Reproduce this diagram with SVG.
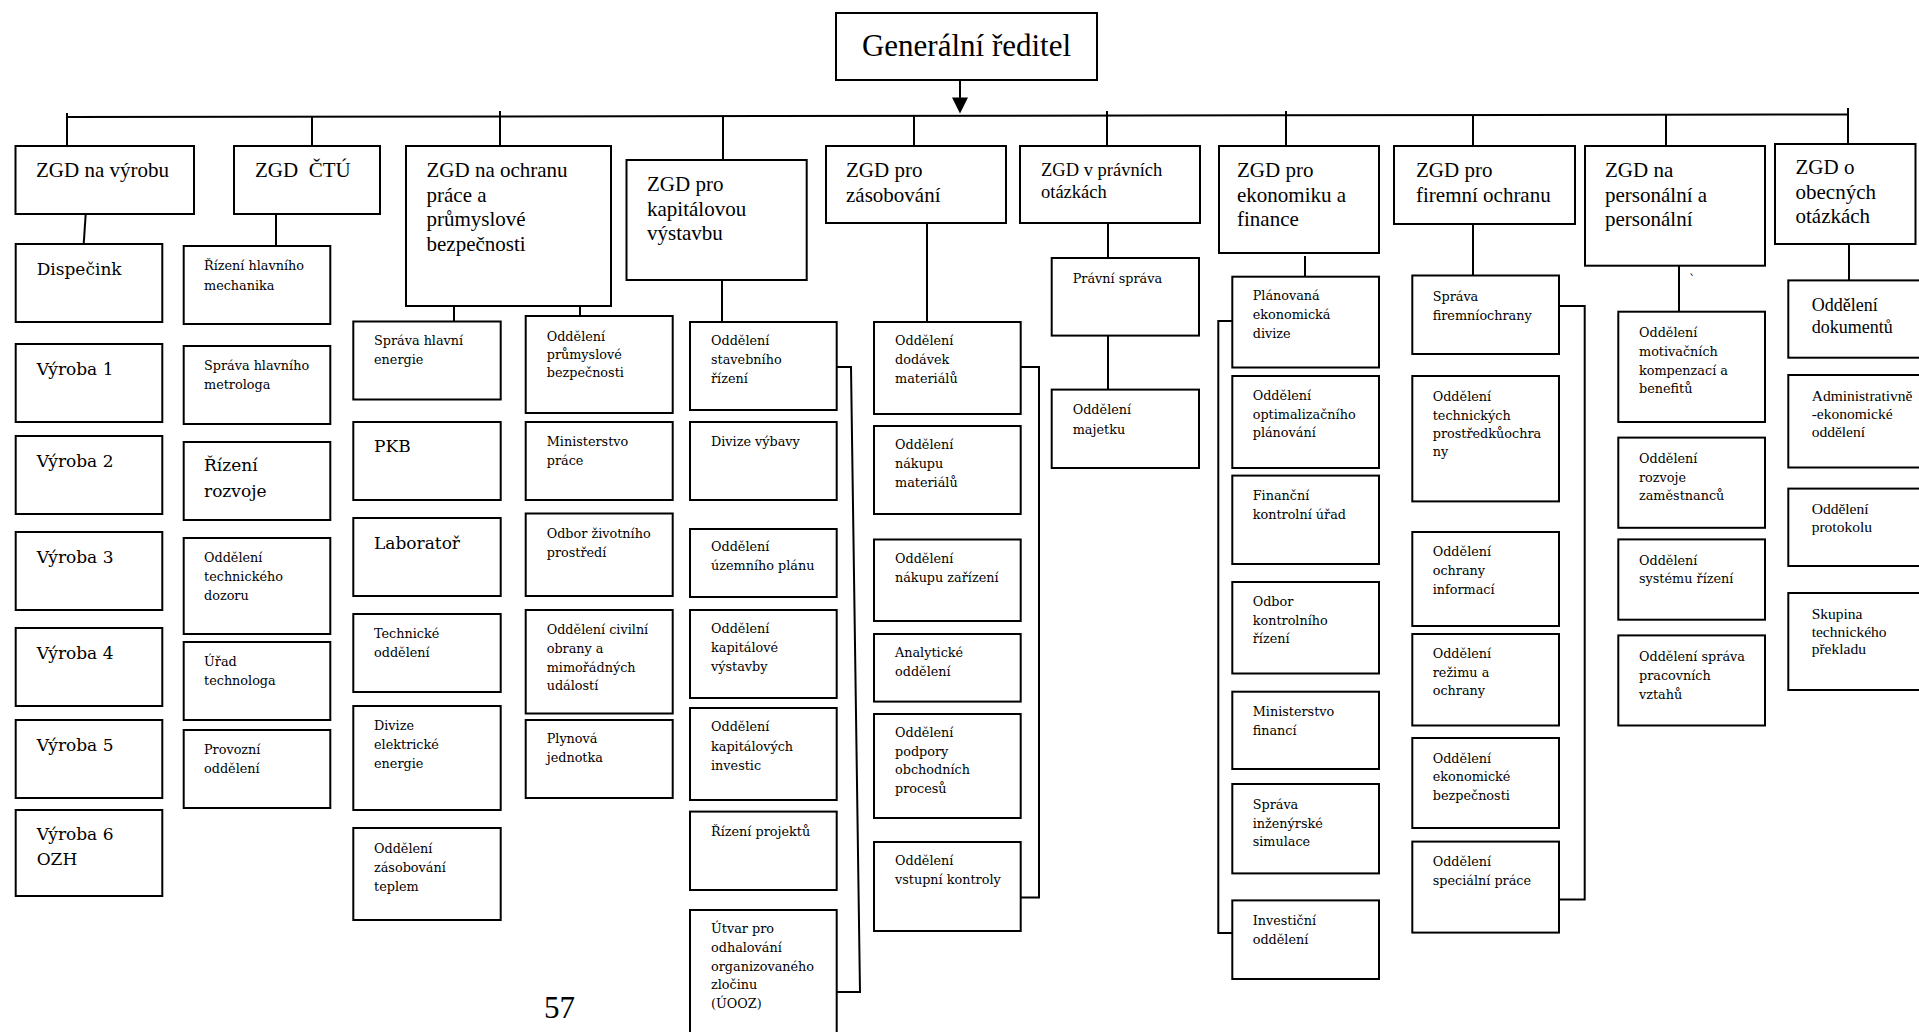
<svg xmlns="http://www.w3.org/2000/svg" width="1919" height="1032" viewBox="0 0 1919 1032">
<defs>
<style>
.box{fill:#fff;stroke:#000;stroke-width:2}
.ln{fill:none;stroke:#000;stroke-width:2}
.hd{font-family:"Liberation Serif","Times New Roman",serif;font-size:21px;fill:#000}
.hs{font-family:"Liberation Serif","Times New Roman",serif;font-size:18.5px;fill:#000}
.sm{font-family:"DejaVu Serif",serif;font-size:12.8px;fill:#000}
.lg{font-family:"DejaVu Serif",serif;font-size:17px;fill:#000}
.tm{font-family:"Liberation Serif","Times New Roman",serif;font-size:15.5px;fill:#000}
.tl{font-family:"Liberation Serif","Times New Roman",serif;font-size:18px;fill:#000}
</style>
</defs>
<rect width="1919" height="1032" fill="#fff"/>

<!-- connectors -->
<g id="connectors" class="ln">
<path d="M960,72 V98"/>
<path d="M952,97.5 L968,97.5 L960,113.5 Z" fill="#000" stroke="none"/>
<path d="M67,117 L1848,114.5"/>
<path d="M67,113 V146"/>
<path d="M312,116 V146"/>
<path d="M500,111 V146"/>
<path d="M723,116 V160"/>
<path d="M914,116 V146"/>
<path d="M1107,111 V146"/>
<path d="M1286,111 V146"/>
<path d="M1473,115 V146"/>
<path d="M1666,115 V146"/>
<path d="M1848,108 V144"/>
<path d="M85.7,214 L83.7,244"/>
<path d="M276,214 V246"/>
<path d="M454,306 V321.5"/>
<path d="M580,306 V316"/>
<path d="M722,280 V322"/>
<path d="M836.7,367 H851 L860,992 H836.7"/>
<path d="M927,223 V322"/>
<path d="M1020.7,367 H1039 V897.5 H1020.7"/>
<path d="M1108,223 V258"/>
<path d="M1108,335.6 V389.6"/>
<path d="M1305,256 V276.7"/>
<path d="M1232.3,321 H1218.3 V933 H1232.3"/>
<path d="M1473,224 V275.5"/>
<path d="M1559,306 H1584.7 V899.6 H1559"/>
<path d="M1679,265.7 V311.7"/>
<path d="M1849,244 V280.4"/>
</g>

<!-- top -->
<g id="n-gr"><rect class="box" x="836" y="13" width="261" height="67"/>
<text x="966.5" y="56" text-anchor="middle" style="font-family:'Liberation Serif','Times New Roman',serif;font-size:31px">Generální ředitel</text></g>

<!-- deputy directors -->
<g id="n-vyroba"><rect class="box" x="15.5" y="146" width="178.5" height="68"/>
<text class="hd" x="36" y="177">ZGD na výrobu</text></g>
<g id="n-ctu"><rect class="box" x="234" y="146" width="146" height="68"/>
<text class="hd" x="255" y="177" xml:space="preserve">ZGD  ČTÚ</text></g>
<g id="n-ochrana"><rect class="box" x="406" y="146" width="205" height="160"/>
<text class="hd"><tspan x="426.5" y="177">ZGD na ochranu</tspan><tspan x="426.5" y="201.5">práce a</tspan><tspan x="426.5" y="226">průmyslové</tspan><tspan x="426.5" y="250.5">bezpečnosti</tspan></text></g>
<g id="n-kapital"><rect class="box" x="626.5" y="160" width="180.2" height="120"/>
<text class="hd"><tspan x="647" y="191">ZGD pro</tspan><tspan x="647" y="215.5">kapitálovou</tspan><tspan x="647" y="240">výstavbu</tspan></text></g>
<g id="n-zasob"><rect class="box" x="826" y="146" width="180" height="77"/>
<text class="hd"><tspan x="846" y="177">ZGD pro</tspan><tspan x="846" y="201.5">zásobování</tspan></text></g>
<g id="n-pravni"><rect class="box" x="1020" y="146" width="180" height="77"/>
<text class="hs"><tspan x="1041" y="176">ZGD v právních</tspan><tspan x="1041" y="198">otázkách</tspan></text></g>
<g id="n-ekonom"><rect class="box" x="1219" y="146" width="160" height="107"/>
<text class="hd"><tspan x="1237" y="177">ZGD pro</tspan><tspan x="1237" y="201.5">ekonomiku a</tspan><tspan x="1237" y="226">finance</tspan></text></g>
<g id="n-firem"><rect class="box" x="1394" y="146" width="181" height="78"/>
<text class="hd"><tspan x="1416" y="177">ZGD pro</tspan><tspan x="1416" y="201.5">firemní ochranu</tspan></text></g>
<g id="n-person"><rect class="box" x="1585" y="146" width="180" height="119.7"/>
<text class="hd"><tspan x="1605" y="177">ZGD na</tspan><tspan x="1605" y="201.5">personální a</tspan><tspan x="1605" y="226">personální</tspan></text></g>
<g id="n-obec"><rect class="box" x="1775" y="144" width="140.5" height="100"/>
<text class="hd"><tspan x="1795.5" y="174">ZGD o</tspan><tspan x="1795.5" y="198.5">obecných</tspan><tspan x="1795.5" y="223">otázkách</tspan></text></g>

<!-- production -->
<g id="n-dispecink"><rect class="box" x="15.7" y="244" width="146.6" height="78"/><text class="lg" x="36.7" y="275">Dispečink</text></g>
<g id="n-vyroba1"><rect class="box" x="15.7" y="344" width="146.6" height="78"/><text class="lg" x="36.7" y="375">Výroba 1</text></g>
<g id="n-vyroba2"><rect class="box" x="15.7" y="436" width="146.6" height="78"/><text class="lg" x="36.7" y="467">Výroba 2</text></g>
<g id="n-vyroba3"><rect class="box" x="15.7" y="532" width="146.6" height="78"/><text class="lg" x="36.7" y="563">Výroba 3</text></g>
<g id="n-vyroba4"><rect class="box" x="15.7" y="628" width="146.6" height="78"/><text class="lg" x="36.7" y="659">Výroba 4</text></g>
<g id="n-vyroba5"><rect class="box" x="15.7" y="720" width="146.6" height="78"/><text class="lg" x="36.7" y="751">Výroba 5</text></g>
<g id="n-vyroba6"><rect class="box" x="15.7" y="810" width="146.6" height="86"/><text class="lg"><tspan x="36.7" y="840">Výroba 6</tspan><tspan x="36.7" y="865">OZH</tspan></text></g>

<!-- ČTÚ -->
<g id="n-mechanik"><rect class="box" x="183.7" y="246" width="146.6" height="78"/><text class="sm"><tspan x="204" y="270">Řízení hlavního</tspan><tspan x="204" y="289.5">mechanika</tspan></text></g>
<g id="n-metrolog"><rect class="box" x="183.7" y="346" width="146.6" height="78"/><text class="sm"><tspan x="204" y="370">Správa hlavního</tspan><tspan x="204" y="389">metrologa</tspan></text></g>
<g id="n-rozvoj"><rect class="box" x="183.7" y="442" width="146.6" height="78"/><text class="lg"><tspan x="204" y="471">Řízení</tspan><tspan x="204" y="497">rozvoje</tspan></text></g>
<g id="n-dozor"><rect class="box" x="183.7" y="538" width="146.6" height="96"/><text class="sm"><tspan x="204" y="562">Oddělení</tspan><tspan x="204" y="581">technického</tspan><tspan x="204" y="600">dozoru</tspan></text></g>
<g id="n-technolog"><rect class="box" x="183.7" y="642" width="146.6" height="78"/><text class="sm"><tspan x="204" y="666">Úřad</tspan><tspan x="204" y="685">technologa</tspan></text></g>
<g id="n-provoz"><rect class="box" x="183.7" y="730" width="146.6" height="78"/><text class="sm"><tspan x="204" y="754">Provozní</tspan><tspan x="204" y="773">oddělení</tspan></text></g>

<!-- safety, left -->
<g id="n-energie"><rect class="box" x="353.3" y="321.5" width="147.4" height="78"/><text class="sm"><tspan x="374" y="345">Správa hlavní</tspan><tspan x="374" y="364">energie</tspan></text></g>
<g id="n-pkb"><rect class="box" x="353.3" y="422" width="147.4" height="78"/><text class="lg" x="374" y="452">PKB</text></g>
<g id="n-lab"><rect class="box" x="353.3" y="518" width="147.4" height="78"/><text class="lg" x="374" y="549">Laboratoř</text></g>
<g id="n-techodd"><rect class="box" x="353.3" y="614" width="147.4" height="78"/><text class="sm"><tspan x="374" y="638">Technické</tspan><tspan x="374" y="657">oddělení</tspan></text></g>
<g id="n-elektro"><rect class="box" x="353.3" y="706" width="147.4" height="104"/><text class="sm"><tspan x="374" y="730">Divize</tspan><tspan x="374" y="749">elektrické</tspan><tspan x="374" y="768">energie</tspan></text></g>
<g id="n-teplo"><rect class="box" x="353.3" y="828" width="147.4" height="92"/><text class="sm"><tspan x="374" y="853">Oddělení</tspan><tspan x="374" y="872">zásobování</tspan><tspan x="374" y="891">teplem</tspan></text></g>

<!-- safety, right -->
<g id="n-prumysl"><rect class="box" x="525.7" y="316" width="147" height="97"/><text class="sm"><tspan x="546.7" y="341">Oddělení</tspan><tspan x="546.7" y="359">průmyslové</tspan><tspan x="546.7" y="377">bezpečnosti</tspan></text></g>
<g id="n-minprace"><rect class="box" x="525.7" y="422" width="147" height="78"/><text class="sm"><tspan x="546.7" y="446">Ministerstvo</tspan><tspan x="546.7" y="465">práce</tspan></text></g>
<g id="n-zivot"><rect class="box" x="525.7" y="513.5" width="147" height="82.5"/><text class="sm"><tspan x="546.7" y="538">Odbor životního</tspan><tspan x="546.7" y="557">prostředí</tspan></text></g>
<g id="n-civil"><rect class="box" x="525.7" y="610" width="147" height="103.5"/><text class="sm"><tspan x="546.7" y="634">Oddělení civilní</tspan><tspan x="546.7" y="653">obrany a</tspan><tspan x="546.7" y="671.5">mimořádných</tspan><tspan x="546.7" y="690">událostí</tspan></text></g>
<g id="n-plyn"><rect class="box" x="525.7" y="720" width="147" height="78"/><text class="sm"><tspan x="546.7" y="743">Plynová</tspan><tspan x="546.7" y="762">jednotka</tspan></text></g>

<!-- capital construction -->
<g id="n-stavebni"><rect class="box" x="690" y="322" width="146.7" height="88"/><text class="sm"><tspan x="711" y="345">Oddělení</tspan><tspan x="711" y="364">stavebního</tspan><tspan x="711" y="382.5">řízení</tspan></text></g>
<g id="n-vybava"><rect class="box" x="690" y="422" width="146.7" height="78"/><text class="sm" x="711" y="446">Divize výbavy</text></g>
<g id="n-uzemni"><rect class="box" x="690" y="529" width="146.7" height="68"/><text class="sm"><tspan x="711" y="551">Oddělení</tspan><tspan x="711" y="570">územního plánu</tspan></text></g>
<g id="n-kapvyst"><rect class="box" x="690" y="610" width="146.7" height="88"/><text class="sm"><tspan x="711" y="633">Oddělení</tspan><tspan x="711" y="652">kapitálové</tspan><tspan x="711" y="670.5">výstavby</tspan></text></g>
<g id="n-kapinv"><rect class="box" x="690" y="708" width="146.7" height="92"/><text class="sm"><tspan x="711" y="731">Oddělení</tspan><tspan x="711" y="751">kapitálových</tspan><tspan x="711" y="770">investic</tspan></text></g>
<g id="n-projekty"><rect class="box" x="690" y="811.6" width="146.7" height="78.4"/><text class="sm" x="711" y="836">Řízení projektů</text></g>
<g id="n-uooz"><rect class="box" x="690" y="910" width="146.7" height="130"/><text class="sm"><tspan x="711" y="933">Útvar pro</tspan><tspan x="711" y="952">odhalování</tspan><tspan x="711" y="971">organizovaného</tspan><tspan x="711" y="989">zločinu</tspan><tspan x="711" y="1008">(ÚOOZ)</tspan></text></g>

<!-- supply -->
<g id="n-dodavky"><rect class="box" x="874" y="322" width="146.7" height="92"/><text class="sm"><tspan x="895" y="345">Oddělení</tspan><tspan x="895" y="364">dodávek</tspan><tspan x="895" y="382.5">materiálů</tspan></text></g>
<g id="n-nakupmat"><rect class="box" x="874" y="426" width="146.7" height="88"/><text class="sm"><tspan x="895" y="449">Oddělení</tspan><tspan x="895" y="468">nákupu</tspan><tspan x="895" y="486.5">materiálů</tspan></text></g>
<g id="n-nakupzar"><rect class="box" x="874" y="539.5" width="146.7" height="81.5"/><text class="sm"><tspan x="895" y="562.5">Oddělení</tspan><tspan x="895" y="582">nákupu zařízení</tspan></text></g>
<g id="n-analyt"><rect class="box" x="874" y="634" width="146.7" height="67.6"/><text class="sm"><tspan x="895" y="657">Analytické</tspan><tspan x="895" y="676">oddělení</tspan></text></g>
<g id="n-podpora"><rect class="box" x="874" y="714" width="146.7" height="104"/><text class="sm"><tspan x="895" y="736.5">Oddělení</tspan><tspan x="895" y="756">podpory</tspan><tspan x="895" y="774">obchodních</tspan><tspan x="895" y="793">procesů</tspan></text></g>
<g id="n-vstup"><rect class="box" x="874" y="842" width="146.7" height="89"/><text class="sm"><tspan x="895" y="864.5">Oddělení</tspan><tspan x="895" y="884">vstupní kontroly</tspan></text></g>

<!-- legal -->
<g id="n-pravsprava"><rect class="box" x="1051.7" y="258" width="147.3" height="77.6"/><text class="sm" x="1072.7" y="283">Právní správa</text></g>
<g id="n-majetek"><rect class="box" x="1051.7" y="389.6" width="147.3" height="78.4"/><text class="sm"><tspan x="1072.7" y="414">Oddělení</tspan><tspan x="1072.7" y="434">majetku</tspan></text></g>

<!-- economy -->
<g id="n-planek"><rect class="box" x="1232.3" y="276.7" width="146.7" height="90.8"/><text class="sm"><tspan x="1252.7" y="300">Plánovaná</tspan><tspan x="1252.7" y="319">ekonomická</tspan><tspan x="1252.7" y="338">divize</tspan></text></g>
<g id="n-optim"><rect class="box" x="1232.3" y="376" width="146.7" height="92"/><text class="sm"><tspan x="1252.7" y="399.5">Oddělení</tspan><tspan x="1252.7" y="419">optimalizačního</tspan><tspan x="1252.7" y="437">plánování</tspan></text></g>
<g id="n-finkontr"><rect class="box" x="1232.3" y="475.6" width="146.7" height="88.4"/><text class="sm"><tspan x="1252.7" y="500">Finanční</tspan><tspan x="1252.7" y="519">kontrolní úřad</tspan></text></g>
<g id="n-kontrriz"><rect class="box" x="1232.3" y="582" width="146.7" height="91.5"/><text class="sm"><tspan x="1252.7" y="606">Odbor</tspan><tspan x="1252.7" y="625">kontrolního</tspan><tspan x="1252.7" y="643">řízení</tspan></text></g>
<g id="n-minfin"><rect class="box" x="1232.3" y="691.7" width="146.7" height="77.3"/><text class="sm"><tspan x="1252.7" y="716">Ministerstvo</tspan><tspan x="1252.7" y="735">financí</tspan></text></g>
<g id="n-simul"><rect class="box" x="1232.3" y="784" width="146.7" height="89.4"/><text class="sm"><tspan x="1252.7" y="809">Správa</tspan><tspan x="1252.7" y="828">inženýrské</tspan><tspan x="1252.7" y="846">simulace</tspan></text></g>
<g id="n-invest"><rect class="box" x="1232.3" y="900.4" width="146.7" height="78.6"/><text class="sm"><tspan x="1252.7" y="925">Investiční</tspan><tspan x="1252.7" y="944">oddělení</tspan></text></g>

<!-- corporate protection -->
<g id="n-sprfirem"><rect class="box" x="1412.3" y="275.5" width="146.7" height="78.5"/><text class="sm"><tspan x="1432.7" y="301">Správa</tspan><tspan x="1432.7" y="319.5">firemníochrany</tspan></text></g>
<g id="n-techprost"><rect class="box" x="1412.3" y="376" width="146.7" height="125.4"/><text class="sm"><tspan x="1432.7" y="401">Oddělení</tspan><tspan x="1432.7" y="420">technických</tspan><tspan x="1432.7" y="438">prostředkůochra</tspan><tspan x="1432.7" y="456">ny</tspan></text></g>
<g id="n-info"><rect class="box" x="1412.3" y="532" width="146.7" height="94"/><text class="sm"><tspan x="1432.7" y="556">Oddělení</tspan><tspan x="1432.7" y="575">ochrany</tspan><tspan x="1432.7" y="594">informací</tspan></text></g>
<g id="n-rezim"><rect class="box" x="1412.3" y="634" width="146.7" height="91.5"/><text class="sm"><tspan x="1432.7" y="658">Oddělení</tspan><tspan x="1432.7" y="676.5">režimu a</tspan><tspan x="1432.7" y="694.5">ochrany</tspan></text></g>
<g id="n-ekobezp"><rect class="box" x="1412.3" y="738" width="146.7" height="90"/><text class="sm"><tspan x="1432.7" y="763">Oddělení</tspan><tspan x="1432.7" y="781">ekonomické</tspan><tspan x="1432.7" y="799.5">bezpečnosti</tspan></text></g>
<g id="n-special"><rect class="box" x="1412.3" y="841.6" width="146.7" height="91"/><text class="sm"><tspan x="1432.7" y="866">Oddělení</tspan><tspan x="1432.7" y="885">speciální práce</tspan></text></g>

<!-- personnel -->
<text class="sm" x="1689" y="284">`</text>
<g id="n-motiv"><rect class="box" x="1618.3" y="311.7" width="146.7" height="110.3"/><text class="sm"><tspan x="1639" y="337">Oddělení</tspan><tspan x="1639" y="356">motivačních</tspan><tspan x="1639" y="374.5">kompenzací a</tspan><tspan x="1639" y="392.5">benefitů</tspan></text></g>
<g id="n-zamest"><rect class="box" x="1618.3" y="437.6" width="146.7" height="90.2"/><text class="sm"><tspan x="1639" y="463">Oddělení</tspan><tspan x="1639" y="481.5">rozvoje</tspan><tspan x="1639" y="500">zaměstnanců</tspan></text></g>
<g id="n-system"><rect class="box" x="1618.3" y="539.4" width="146.7" height="80.3"/><text class="sm"><tspan x="1639" y="565">Oddělení</tspan><tspan x="1639" y="583">systému řízení</tspan></text></g>
<g id="n-vztahy"><rect class="box" x="1618.3" y="635.4" width="146.7" height="90.1"/><text class="sm"><tspan x="1639" y="661">Oddělení správa</tspan><tspan x="1639" y="680">pracovních</tspan><tspan x="1639" y="698.5">vztahů</tspan></text></g>

<!-- general affairs -->
<g id="n-dokum"><rect class="box" x="1788.3" y="280.4" width="150" height="77.3"/><text class="tl"><tspan x="1811.7" y="311">Oddělení</tspan><tspan x="1811.7" y="333">dokumentů</tspan></text></g>
<g id="n-admin"><rect class="box" x="1788.3" y="375" width="150" height="92.5"/><text class="tm"><tspan x="1811.7" y="401">Administrativně</tspan><tspan x="1811.7" y="419">-ekonomické</tspan><tspan x="1811.7" y="437">oddělení</tspan></text></g>
<g id="n-protokol"><rect class="box" x="1788.3" y="488.6" width="150" height="77.4"/><text class="tm"><tspan x="1811.7" y="514">Oddělení</tspan><tspan x="1811.7" y="532">protokolu</tspan></text></g>
<g id="n-preklad"><rect class="box" x="1788.3" y="593" width="150" height="97"/><text class="tm"><tspan x="1811.7" y="619">Skupina</tspan><tspan x="1811.7" y="637">technického</tspan><tspan x="1811.7" y="654">překladu</tspan></text></g>

<!-- page number -->
<text x="559.5" y="1018" text-anchor="middle" style="font-family:'Liberation Serif','Times New Roman',serif;font-size:31px">57</text>
</svg>
